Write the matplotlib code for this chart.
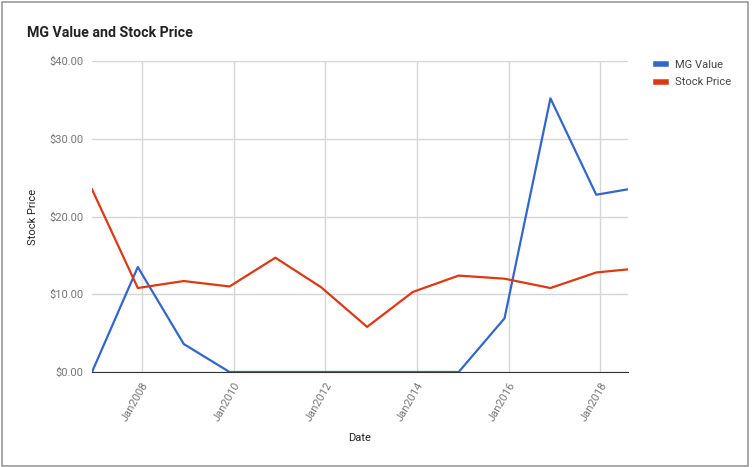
import matplotlib
matplotlib.use("Agg")
import matplotlib.pyplot as plt
from matplotlib.patches import Rectangle
from datetime import datetime

plt.rcParams['font.family'] = ['Roboto', 'DejaVu Sans']

# data
dates = ["2006-11-30", "2007-11-30", "2008-11-30", "2009-11-30", "2010-11-30",
         "2011-11-30", "2012-11-30", "2013-11-30", "2014-11-30", "2015-11-30",
         "2016-11-30", "2017-11-30", "2018-08-10"]
mg_value = [0, 13.5, 3.6, 0, 0, 0, 0, 0, 0, 6.9, 35.2, 22.8, 23.5]
stock_price = [23.5, 10.8, 11.7, 11.0, 14.7, 10.9, 5.8, 10.3, 12.4, 12.0, 10.8, 12.8, 13.2]
y_ticks = [0, 10, 20, 30, 40]
x_tick_years = [2008, 2010, 2012, 2014, 2016, 2018]

x = [datetime.strptime(d, "%Y-%m-%d") for d in dates]

fig = plt.figure(figsize=(7.52, 4.67), dpi=100)
ax = fig.add_axes([92 / 752, 95 / 467, 536 / 752, 311 / 467])

ax.plot(x, mg_value, color='#3366cc', lw=1.6, label='MG Value', zorder=3)
ax.plot(x, stock_price, color='#dc3912', lw=1.6, label='Stock Price', zorder=3)

ax.set_xlim(x[0], x[-1])
ax.set_ylim(0, 40)
ax.set_yticks(y_ticks)
ax.set_yticklabels([f"${v:.2f}" for v in y_ticks])
xt = [datetime(yr, 1, 1) for yr in x_tick_years]
ax.set_xticks(xt)
ax.set_xticklabels([f"Jan{yr}" for yr in x_tick_years], rotation=60,
                   ha='right', rotation_mode='anchor')

ax.grid(True, color='#d6d6d6', lw=1, zorder=0)
for s in ['top', 'right', 'left']:
    ax.spines[s].set_visible(False)
ax.spines['bottom'].set_color('#333333')
ax.spines['bottom'].set_zorder(4)
ax.tick_params(length=0, labelsize=8, colors='#757575', pad=6)

ax.set_xlabel('Date', fontsize=8, color='#222222')
ax.set_ylabel('Stock Price', fontsize=8, color='#222222')
ax.xaxis.set_label_coords(0.5, -0.197)
ax.yaxis.set_label_coords(-0.101, 0.5)

fig.text(27 / 752, 1 - 33 / 467, 'MG Value and Stock Price', fontsize=10.2,
         fontweight='bold', color='#222222', va='center')

ax.legend(loc='upper left', bbox_to_anchor=(1.041, 1.022), frameon=False,
          fontsize=8, borderpad=0, handlelength=0.95, handletextpad=0.8,
          labelspacing=0.7, labelcolor='#444444')
for h in ax.get_legend().get_lines():
    h.set_linewidth(4)

# outer frame
fig.patches.append(Rectangle((2 / 752, 1 / 467), 746 / 752, 464 / 467,
                             transform=fig.transFigure, fill=False,
                             edgecolor='#999999', lw=1.2))

fig.savefig('out.png', dpi=100)
